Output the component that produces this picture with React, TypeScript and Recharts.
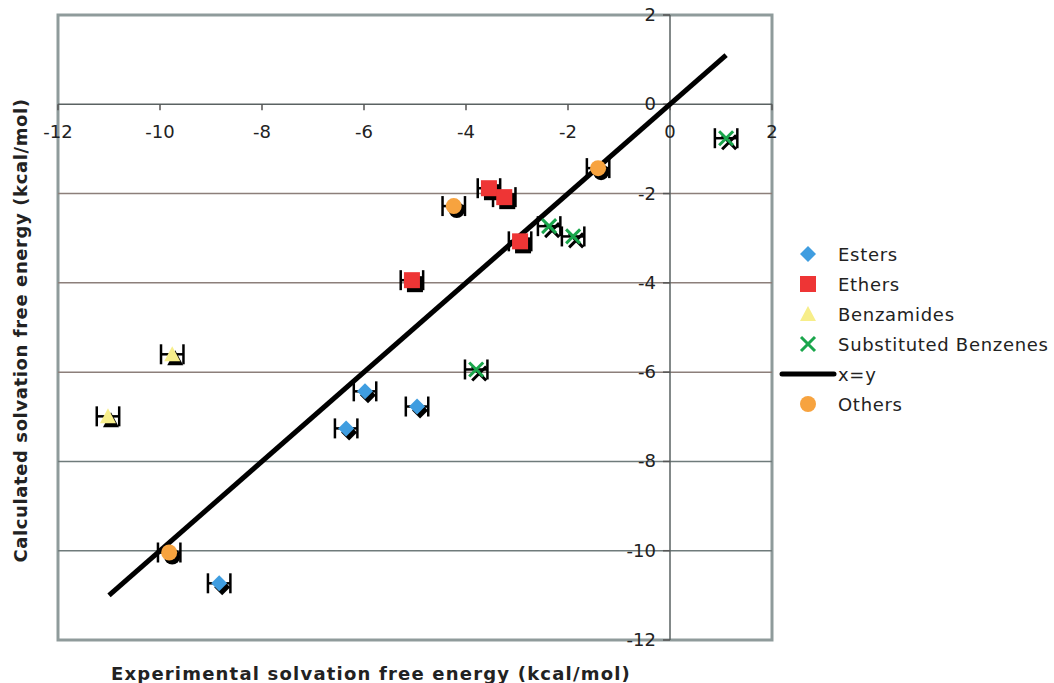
import React from 'react';
import {
  ScatterChart, Scatter, XAxis, YAxis, ErrorBar, ReferenceLine, ReferenceArea,
  ReferenceDot, Legend,
} from 'recharts';

const esters = [
  { x: -5.98, y: -6.43, err: 0.22 },
  { x: -4.96, y: -6.77, err: 0.22 },
  { x: -6.35, y: -7.26, err: 0.22 },
  { x: -8.84, y: -10.73, err: 0.22 },
];
const ethers = [
  { x: -3.55, y: -1.88, err: 0.22 },
  { x: -3.25, y: -2.08, err: 0.22 },
  { x: -2.94, y: -3.07, err: 0.22 },
  { x: -5.06, y: -3.94, err: 0.22 },
];
const benzamides = [
  { x: -9.76, y: -5.6, err: 0.22 },
  { x: -11.02, y: -6.99, err: 0.22 },
];
const substitutedBenzenes = [
  { x: 1.1, y: -0.76, err: 0.22 },
  { x: -2.37, y: -2.73, err: 0.22 },
  { x: -1.9, y: -2.96, err: 0.22 },
  { x: -3.8, y: -5.94, err: 0.22 },
];
const others = [
  { x: -1.41, y: -1.43, err: 0.22 },
  { x: -4.24, y: -2.28, err: 0.22 },
  { x: -9.82, y: -10.04, err: 0.22 },
];
const identityLine = [
  { x: -11, y: -11 },
  { x: 1.1, y: 1.1 },
];
const xTicks = [-12, -10, -8, -6, -4, -2, 0, 2];
const yTicks = [2, 0, -2, -4, -6, -8, -10, -12];
const gridValues = [-2, -4, -6, -8, -10];

const FONT = '"DejaVu Sans", Verdana, sans-serif';
const C = {
  esters: '#3f9de0',
  ethers: '#ee3535',
  benzamides: '#f7ee8a',
  subst: '#1aa64c',
  others: '#f7a33f',
};

type Kind = 'diamond' | 'square' | 'triangle' | 'cross' | 'circle';

function glyph(kind: Kind, cx: number, cy: number, fill: string, key: string) {
  switch (kind) {
    case 'diamond':
      return <path key={key} d={`M${cx},${cy - 8}L${cx + 8},${cy}L${cx},${cy + 8}L${cx - 8},${cy}Z`} fill={fill} />;
    case 'square':
      return <rect key={key} x={cx - 8} y={cy - 8} width={16} height={16} fill={fill} />;
    case 'triangle':
      return <path key={key} d={`M${cx},${cy - 8}L${cx + 8},${cy + 7}L${cx - 8},${cy + 7}Z`} fill={fill} />;
    case 'circle':
      return <circle key={key} cx={cx} cy={cy} r={8} fill={fill} />;
    case 'cross':
      return (
        <g key={key} stroke={fill} strokeWidth={3}>
          <line x1={cx - 7} y1={cy - 7} x2={cx + 7} y2={cy + 7} />
          <line x1={cx - 7} y1={cy + 7} x2={cx + 7} y2={cy - 7} />
        </g>
      );
  }
}

const makeShape = (kind: Kind, fill: string) => (props: any) => {
  const { cx, cy } = props;
  return (
    <g>
      {glyph(kind, cx + 3, cy + 4, '#000', 's')}
      {glyph(kind, cx, cy, fill, 'f')}
    </g>
  );
};

const XTick = (label: string) => (props: any) => {
  const { cx, cy } = props;
  return (
    <g>
      <line x1={cx} y1={cy} x2={cx} y2={cy + 6} stroke="#555" strokeWidth={1.5} />
      <text x={cx} y={cy + 34} textAnchor="middle" fontFamily={FONT} fontSize={18} fill="#222">{label}</text>
    </g>
  );
};
const YTick = (label: string) => (props: any) => {
  const { cx, cy } = props;
  return (
    <g>
      <line x1={cx - 7} y1={cy} x2={cx} y2={cy} stroke="#555" strokeWidth={1.5} />
      <text x={cx - 14} y={cy + 6} textAnchor="end" fontFamily={FONT} fontSize={18} fill="#222">{label}</text>
    </g>
  );
};

const legendItems: { name: string; kind: Kind | 'line'; color: string }[] = [
  { name: 'Esters', kind: 'diamond', color: C.esters },
  { name: 'Ethers', kind: 'square', color: C.ethers },
  { name: 'Benzamides', kind: 'triangle', color: C.benzamides },
  { name: 'Substituted Benzenes', kind: 'cross', color: C.subst },
  { name: 'x=y', kind: 'line', color: '#000' },
  { name: 'Others', kind: 'circle', color: C.others },
];

const LegendContent = () => (
  <div style={{ fontFamily: FONT, fontSize: 18, letterSpacing: 0.7, color: '#222' }}>
    {legendItems.map((it) => (
      <div key={it.name} style={{ display: 'flex', alignItems: 'center', height: 30 }}>
        <svg width={60} height={30} style={{ display: 'block' }}>
          {it.kind === 'line' ? (
            <line x1={4} y1={15} x2={56} y2={15} stroke="#000" strokeWidth={5} strokeLinecap="round" />
          ) : (
            glyph(it.kind as Kind, 30, 15, it.color, 'g')
          )}
        </svg>
        <span style={{ whiteSpace: 'nowrap' }}>{it.name}</span>
      </div>
    ))}
  </div>
);

export default function App() {
  return (
    <div style={{ position: 'absolute', left: 0, top: 0, width: 1054, height: 683, background: '#fff' }}>
      <ScatterChart width={1054} height={683} margin={{ top: 15, right: 282, bottom: 0, left: 0 }}>
        <XAxis
          type="number"
          dataKey="x"
          domain={[-12, 2]}
          ticks={xTicks}
          tick={false}
          tickLine={false}
          axisLine={false}
          height={43}
          allowDataOverflow
          label={(p: any) => {
            const vb = p.viewBox;
            return (
              <text x={vb.x + vb.width / 2 - 44} y={vb.y + 40} textAnchor="middle" fontFamily={FONT} fontWeight="bold" fontSize={18} letterSpacing={1.2} fill="#222">
                Experimental solvation free energy (kcal/mol)
              </text>
            );
          }}
        />
        <YAxis
          type="number"
          dataKey="y"
          domain={[-12, 2]}
          ticks={yTicks}
          tick={false}
          tickLine={false}
          axisLine={false}
          width={58}
          allowDataOverflow
          label={(p: any) => {
            const vb = p.viewBox;
            const cx = 27;
            const cy = vb.y + vb.height / 2 + 3;
            return (
              <text x={cx} y={cy} transform={`rotate(-90 ${cx} ${cy})`} textAnchor="middle" fontFamily={FONT} fontWeight="bold" fontSize={18} letterSpacing={0.6} fill="#222">
                Calculated solvation free energy (kcal/mol)
              </text>
            );
          }}
        />
        {gridValues.map((v) => (
          <ReferenceLine key={`g${v}`} y={v} stroke={v >= -6 ? '#8c7f7a' : '#6f7b7b'} strokeWidth={1.5} />
        ))}
        <ReferenceLine y={0} stroke="#5a6262" strokeWidth={1.5} />
        <ReferenceLine x={0} stroke="#5a6262" strokeWidth={1.5} />
        <ReferenceArea x1={-12} x2={2} y1={-12} y2={2} fill="none" fillOpacity={0} stroke="#8f9b9b" strokeWidth={3} />
        {xTicks.map((t) => (
          <ReferenceDot key={`xt${t}`} x={t} y={0} r={0} shape={XTick(String(t))} ifOverflow="visible" />
        ))}
        {yTicks.map((t) => (
          <ReferenceDot key={`yt${t}`} x={0} y={t} r={0} shape={YTick(String(t))} ifOverflow="visible" />
        ))}
        <Scatter
          name="x=y"
          data={identityLine}
          line={{ stroke: '#000', strokeWidth: 5 }}
          shape={() => <g />}
          isAnimationActive={false}
        />
        <Scatter name="Esters" data={esters} shape={makeShape('diamond', C.esters)} isAnimationActive={false}>
          <ErrorBar dataKey="err" direction="x" width={10} stroke="#000" strokeWidth={2.5} />
        </Scatter>
        <Scatter name="Ethers" data={ethers} shape={makeShape('square', C.ethers)} isAnimationActive={false}>
          <ErrorBar dataKey="err" direction="x" width={10} stroke="#000" strokeWidth={2.5} />
        </Scatter>
        <Scatter name="Benzamides" data={benzamides} shape={makeShape('triangle', C.benzamides)} isAnimationActive={false}>
          <ErrorBar dataKey="err" direction="x" width={10} stroke="#000" strokeWidth={2.5} />
        </Scatter>
        <Scatter name="Substituted Benzenes" data={substitutedBenzenes} shape={makeShape('cross', C.subst)} isAnimationActive={false}>
          <ErrorBar dataKey="err" direction="x" width={10} stroke="#000" strokeWidth={2.5} />
        </Scatter>
        <Scatter name="Others" data={others} shape={makeShape('circle', C.others)} isAnimationActive={false}>
          <ErrorBar dataKey="err" direction="x" width={10} stroke="#000" strokeWidth={2.5} />
        </Scatter>
        <Legend
          layout="vertical"
          align="center"
          verticalAlign="middle"
          content={<LegendContent />}
          wrapperStyle={{ left: 778, top: 239, width: 276 }}
        />
      </ScatterChart>
    </div>
  );
}
